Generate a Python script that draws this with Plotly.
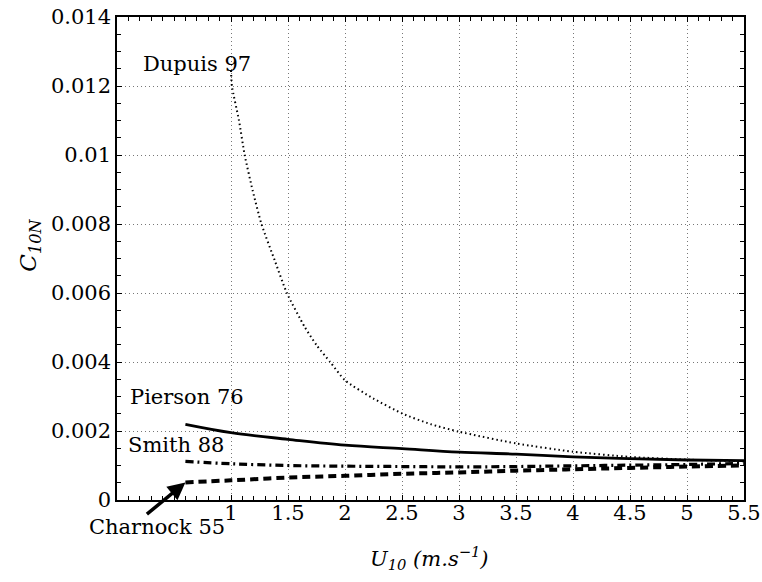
import plotly.graph_objects as go

# ---- data ----
dupuis_u = [1.0, 1.008, 1.07, 1.12, 1.19, 1.267, 1.383, 1.49, 1.646, 1.75, 1.87, 2.0,
            2.25, 2.5, 2.75, 3.0, 3.5, 4.0, 4.5, 5.0, 5.5]
dupuis_c = [0.01245, 0.0120, 0.0110, 0.0100, 0.00897, 0.0080, 0.00695, 0.0060, 0.00502, 0.00449, 0.0040, 0.00347,
            0.00294, 0.00251, 0.0022, 0.00198, 0.00164, 0.0014, 0.00125, 0.00117, 0.00112]

pierson_u = [0.6, 1.0, 1.5, 2.0, 2.5, 3.0, 3.5, 4.0, 4.5, 5.0, 5.5]
pierson_c = [0.00219, 0.00195, 0.00176, 0.00159, 0.00149, 0.00139, 0.00133, 0.00125, 0.0012, 0.00116, 0.00114]

smith_u = [0.6, 1.0, 1.5, 2.0, 2.5, 3.0, 3.5, 4.0, 4.5, 5.0, 5.5]
smith_c = [0.00112, 0.00105, 0.00100, 0.00098, 0.00097, 0.00096, 0.00097, 0.00099, 0.00101, 0.00103, 0.00106]

charnock_u = [0.6, 1.0, 1.5, 2.0, 2.5, 3.0, 3.5, 4.0, 4.5, 5.0, 5.5]
charnock_c = [0.00051, 0.00057, 0.00065, 0.00070, 0.00076, 0.00080, 0.00085, 0.00089, 0.00093, 0.00097, 0.00100]

x_ticks = [1, 1.5, 2, 2.5, 3, 3.5, 4, 4.5, 5, 5.5]
x_ticklabels = ["1", "1.5", "2", "2.5", "3", "3.5", "4", "4.5", "5", "5.5"]
y_ticks = [0, 0.002, 0.004, 0.006, 0.008, 0.01, 0.012, 0.014]
y_ticklabels = ["0", "0.002", "0.004", "0.006", "0.008", "0.01", "0.012", "0.014"]

FONT = "DejaVu Serif"
FS = 21

fig = go.Figure()
fig.add_trace(go.Scatter(x=dupuis_u, y=dupuis_c, mode="lines", line_shape="spline",
                         line=dict(color="black", width=2, dash="1.5px,3px", smoothing=0.6)))
fig.add_trace(go.Scatter(x=pierson_u, y=pierson_c, mode="lines", line_shape="spline",
                         line=dict(color="black", width=2.8)))
fig.add_trace(go.Scatter(x=smith_u, y=smith_c, mode="lines", line_shape="spline",
                         line=dict(color="black", width=3.2, dash="8px,4px,2px,4px")))
fig.add_trace(go.Scatter(x=charnock_u, y=charnock_c, mode="lines", line_shape="spline",
                         line=dict(color="black", width=4, dash="8px,5px")))

axis_common = dict(
    showline=True, linecolor="black", linewidth=1.5, mirror="ticks",
    ticks="inside", ticklen=5, tickwidth=1, tickcolor="black",
    showgrid=True, gridcolor="#777777", gridwidth=1, griddash="1px,3px",
    zeroline=False, automargin=False, ticklabeloverflow="allow",
    tickfont=dict(family=FONT, size=FS, color="black"),
)

fig.update_xaxes(range=[0, 5.5], tickmode="array", tickvals=x_ticks, ticktext=x_ticklabels,
                 ticklabelstandoff=-7,
                 minor=dict(dtick=0.1, tick0=0, ticks="inside", ticklen=4, tickcolor="black", showgrid=False),
                 **axis_common)
fig.update_yaxes(range=[0, 0.014], tickmode="array", tickvals=y_ticks, ticktext=y_ticklabels,
                 minor=dict(dtick=0.0005, tick0=0, ticks="inside", ticklen=4, tickcolor="black", showgrid=False),
                 **axis_common)

PW, PH = 627, 483


def px_x(px):
    return (px - 117.3) / PW


def px_y(py):
    return (500 - py) / PH


tf = dict(family=FONT, size=FS, color="black")
ann = [
    dict(x=0.214, y=0.01265, xref="x", yref="y", text="Dupuis 97", showarrow=False,
         xanchor="left", yanchor="middle", font=tf),
    dict(x=0.094, y=0.00299, xref="x", yref="y", text="Pierson 76", showarrow=False,
         xanchor="left", yanchor="middle", font=tf),
    dict(x=0.082, y=0.00159, xref="x", yref="y", text="Smith 88", showarrow=False,
         xanchor="left", yanchor="middle", font=tf),
    dict(x=px_x(227), y=px_y(526.7), xref="paper", yref="paper",
         text="Charnock 55", showarrow=False, xanchor="right", yanchor="middle", font=tf),
    dict(x=charnock_u[0], y=charnock_c[0], xref="x", yref="y", text="", showarrow=True,
         ax=-40, ay=33, arrowhead=2, arrowsize=1, arrowwidth=3.5, arrowcolor="black"),
    dict(x=px_x(30), y=px_y(245), xref="paper", yref="paper",
         text="<i>C</i><sub><i>10N</i></sub>", textangle=-90, showarrow=False,
         xanchor="center", yanchor="middle", font=dict(family=FONT, size=23, color="black")),
    dict(x=px_x(430), y=px_y(558), xref="paper", yref="paper",
         text="<i>U</i><sub><i>10</i></sub> <i>(m.s<sup>−1</sup>)</i>", showarrow=False,
         xanchor="center", yanchor="middle", font=tf),
]

fig.update_layout(
    width=762, height=582,
    margin=dict(l=117, r=18, t=17, b=82),
    paper_bgcolor="white", plot_bgcolor="white",
    showlegend=False, annotations=ann,
    font=dict(family=FONT, size=FS, color="black"),
)

fig.write_html("out.html", config={"displayModeBar": False},
               post_script="document.body.style.margin='0';")
